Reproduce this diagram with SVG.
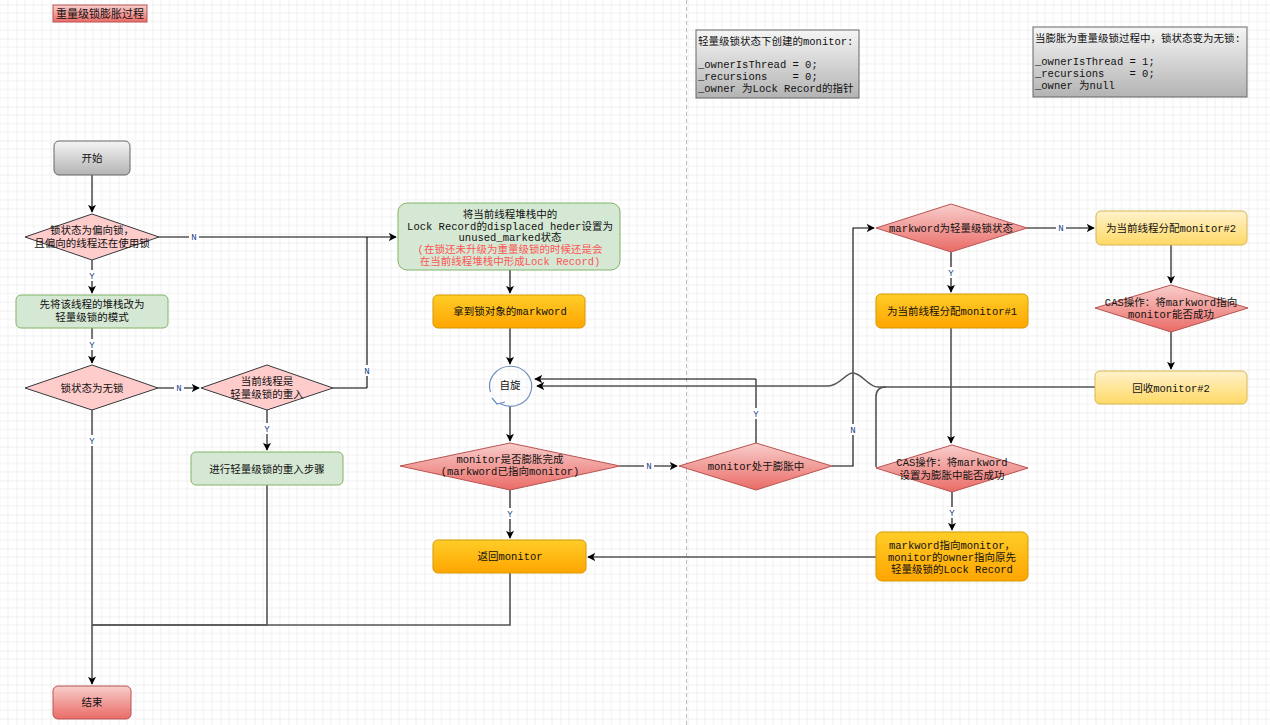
<svg xmlns="http://www.w3.org/2000/svg" width="1270" height="725" viewBox="0 0 1270 725">
<defs>
<pattern id="grid" x="16.5" y="4.5" width="34" height="34" patternUnits="userSpaceOnUse">
<path d="M8.5,0V34M17,0V34M25.5,0V34M0,8.5H34M0,17H34M0,25.5H34" stroke="#f1f1f1" stroke-width="1" fill="none"/>
<path d="M0,0V34M0,0H34" stroke="#e2e2e2" stroke-width="1" fill="none"/>
</pattern>
<linearGradient id="gRed" x1="0" y1="0" x2="0" y2="1"><stop offset="0" stop-color="#f8cecc"/><stop offset="1" stop-color="#ea6b66"/></linearGradient>
<linearGradient id="gGray" x1="0" y1="0" x2="0" y2="1"><stop offset="0" stop-color="#f5f5f5"/><stop offset="1" stop-color="#b3b3b3"/></linearGradient>
<linearGradient id="gOrange" x1="0" y1="0" x2="0" y2="1"><stop offset="0" stop-color="#ffcd28"/><stop offset="1" stop-color="#ffa500"/></linearGradient>
<linearGradient id="gYellow" x1="0" y1="0" x2="0" y2="1"><stop offset="0" stop-color="#fff2cc"/><stop offset="1" stop-color="#ffd966"/></linearGradient>
<marker id="arr" viewBox="0 0 10 10" refX="9" refY="5" markerWidth="8" markerHeight="8" markerUnits="userSpaceOnUse" orient="auto">
<path d="M0,0 L10,5 L0,10 L2.5,5 z" fill="#000"/>
</marker>
<style>
text{font-family:"Liberation Mono","Noto Sans CJK SC",monospace;font-size:10.5px;fill:#111;text-anchor:middle}
.note text{text-anchor:start;white-space:pre}
.red{fill:url(#gRed);stroke:#b85450;stroke-width:1}
.gray{fill:url(#gGray);stroke:#666666;stroke-width:1}
.green{fill:#d5e8d4;stroke:#82b366;stroke-width:1}
.pink{fill:#ffcccc;stroke:#36393d;stroke-width:1}
.orange{fill:url(#gOrange);stroke:#d79b00;stroke-width:1}
.yellow{fill:url(#gYellow);stroke:#d6b656;stroke-width:1}
.g{fill:none;stroke:#555;stroke-width:1.6}
.k{fill:none;stroke:#000;stroke-width:1.1}
.lbl{font-size:9px;fill:#1a3f8a}
.lbg{fill:#fff}
.warn{fill:#ff5555}
</style>
</defs>
<rect width="1270" height="725" fill="#fff"/>
<rect width="1270" height="725" fill="url(#grid)"/>
<line x1="686.5" y1="0" x2="686.5" y2="725" stroke="#bdbdbd" stroke-width="1" stroke-dasharray="4,3"/>

<g id="connectors">
<path class="g" d="M92,175 V212" marker-end="url(#arr)"/>
<path class="k" d="M159,237 H396" marker-end="url(#arr)"/>
<path class="g" d="M92,260 V293" marker-end="url(#arr)"/>
<path class="g" d="M92,328 V363" marker-end="url(#arr)"/>
<path class="g" d="M158,388 H199" marker-end="url(#arr)"/>
<path class="g" d="M333,388 H367"/>
<path class="k" d="M367,388 V237"/>
<path class="g" d="M267,410 V450" marker-end="url(#arr)"/>
<path class="g" d="M92,410 V684" marker-end="url(#arr)"/>
<path class="g" d="M267,485 V625 H92"/>
<path class="g" d="M510,573 V625 H92"/>
<path class="k" d="M510,270 V293" marker-end="url(#arr)"/>
<path class="k" d="M510,328 V364" marker-end="url(#arr)"/>
<path class="k" d="M510,406 V441" marker-end="url(#arr)"/>
<path class="k" d="M510,490 V538" marker-end="url(#arr)"/>
<path class="k" d="M620,466 H677" marker-end="url(#arr)"/>
<path class="g" d="M756,443 V379"/>
<path class="k" d="M756,379 H535" marker-end="url(#arr)"/>
<path class="k" d="M832,466 H853 V228 H874" marker-end="url(#arr)"/>
<path class="g" d="M1027,228 H1094" marker-end="url(#arr)"/>
<path class="k" d="M951,252 V292" marker-end="url(#arr)"/>
<path class="g" d="M951,328 V443" marker-end="url(#arr)"/>
<path class="k" d="M952,492 V530" marker-end="url(#arr)"/>
<path class="g" d="M876,557 H588" marker-end="url(#arr)"/>
<path class="g" d="M1171,245 V283" marker-end="url(#arr)"/>
<path class="k" d="M1171,332 V369" marker-end="url(#arr)"/>
<path class="g" d="M1095,387 H878 C868,387 862,373 853,373 C845,373 840,386 828,386 H537" marker-end="url(#arr)"/>
<path class="g" d="M876,467 V397 Q876,387 886,387"/>
</g>

<g id="labels">
<rect class="lbg" x="189" y="231" width="10" height="11"/><text class="lbl" x="194" y="240">N</text>
<rect class="lbg" x="87" y="270" width="10" height="11"/><text class="lbl" x="92" y="279">Y</text>
<rect class="lbg" x="87" y="339" width="10" height="11"/><text class="lbl" x="92" y="348">Y</text>
<rect class="lbg" x="174" y="382" width="10" height="11"/><text class="lbl" x="179" y="391">N</text>
<rect class="lbg" x="362" y="365" width="10" height="11"/><text class="lbl" x="367" y="374">N</text>
<rect class="lbg" x="262" y="423" width="10" height="11"/><text class="lbl" x="267" y="432">Y</text>
<rect class="lbg" x="87" y="435" width="10" height="11"/><text class="lbl" x="92" y="444">Y</text>
<rect class="lbg" x="505" y="508" width="10" height="11"/><text class="lbl" x="510" y="517">Y</text>
<rect class="lbg" x="644" y="460" width="10" height="11"/><text class="lbl" x="649" y="469">N</text>
<rect class="lbg" x="751" y="408" width="10" height="11"/><text class="lbl" x="756" y="417">Y</text>
<rect class="lbg" x="848" y="424" width="10" height="11"/><text class="lbl" x="853" y="433">N</text>
<rect class="lbg" x="1056" y="222" width="10" height="11"/><text class="lbl" x="1061" y="231">N</text>
<rect class="lbg" x="946" y="267" width="10" height="11"/><text class="lbl" x="951" y="276">Y</text>
<rect class="lbg" x="947" y="507" width="10" height="11"/><text class="lbl" x="952" y="516">Y</text>
</g>

<g id="title"><rect class="red" x="53" y="5" width="94" height="17"/><text x="100" y="17.5" style="font-size:11px">重量级锁膨胀过程</text></g>

<g id="note1" class="note"><rect class="gray" x="696" y="30" width="163" height="68"/>
<text x="698" y="45">轻量级锁状态下创建的monitor:</text>
<text x="698" y="68">_ownerIsThread = 0;</text>
<text x="698" y="80">_recursions    = 0;</text>
<text x="698" y="92">_owner 为Lock Record的指针</text></g>

<g id="note2" class="note"><rect class="gray" x="1033" y="27" width="214" height="70"/>
<text x="1035" y="42">当膨胀为重量级锁过程中，锁状态变为无锁:</text>
<text x="1035" y="65">_ownerIsThread = 1;</text>
<text x="1035" y="77">_recursions    = 0;</text>
<text x="1035" y="89">_owner 为null</text></g>

<g id="start"><rect class="gray" x="54" y="141" width="76" height="34" rx="5"/><text x="92" y="162">开始</text></g>

<g id="d_biased"><polygon class="pink" points="92,214 159,237 92,260 25,237"/><text x="92" y="234">锁状态为偏向锁，</text><text x="92" y="247">且偏向的线程还在使用锁</text></g>

<g id="to_light"><rect class="green" x="16" y="295" width="152" height="33" rx="5"/><text x="92" y="308">先将该线程的堆栈改为</text><text x="92" y="321">轻量级锁的模式</text></g>

<g id="d_nolock"><polygon class="pink" points="92,365 158,388 92,410 25,388"/><text x="92" y="392">锁状态为无锁</text></g>

<g id="d_reentry"><polygon class="pink" points="267,365 333,388 267,410 201,388"/><text x="267" y="385">当前线程是</text><text x="267" y="398">轻量级锁的重入</text></g>

<g id="reentry"><rect class="green" x="191" y="452" width="152" height="33" rx="5"/><text x="267" y="473">进行轻量级锁的重入步骤</text></g>

<g id="end"><rect class="red" x="53" y="686" width="78" height="33" rx="5"/><text x="92" y="706">结束</text></g>

<g id="set_displaced"><rect class="green" x="398" y="203" width="222" height="67" rx="9"/>
<text x="510" y="218">将当前线程堆栈中的</text>
<text x="510" y="230">Lock Record的displaced heder设置为</text>
<text x="510" y="241">unused_marked状态</text>
<text class="warn" x="510" y="253">(在锁还未升级为重量级锁的时候还是会</text>
<text class="warn" x="510" y="265">在当前线程堆栈中形成Lock Record)</text></g>

<g id="get_markword"><rect class="orange" x="433" y="295" width="152" height="33" rx="5"/><text x="510" y="315">拿到锁对象的markword</text></g>

<g id="spin">
<path d="M490.5,392 A21,20 0 1 1 500,403.5" fill="none" stroke="#6c8ebf" stroke-width="1.2"/>
<path d="M492,398 L497,404 L505,402" fill="none" stroke="#6c8ebf" stroke-width="1.2"/>
<text x="510" y="389">自旋</text></g>

<g id="d_inflated"><polygon class="red" points="510,443 620,466 510,490 400,466"/><text x="510" y="463">monitor是否膨胀完成</text><text x="510" y="475">(markword已指向monitor)</text></g>

<g id="return_monitor"><rect class="orange" x="433" y="540" width="153" height="33" rx="5"/><text x="510" y="560">返回monitor</text></g>

<g id="d_inflating"><polygon class="red" points="756,443 832,466 756,490 679,466"/><text x="756" y="470">monitor处于膨胀中</text></g>

<g id="d_light"><polygon class="red" points="951,204 1027,228 951,252 876,228"/><text x="951" y="232">markword为轻量级锁状态</text></g>

<g id="alloc1"><rect class="orange" x="876" y="294" width="152" height="34" rx="5"/><text x="952" y="315">为当前线程分配monitor#1</text></g>

<g id="d_cas1"><polygon class="red" points="952,445 1028,468 952,492 876,468"/><text x="952" y="466">CAS操作：将markword</text><text x="952" y="479">设置为膨胀中能否成功</text></g>

<g id="point_monitor"><rect class="orange" x="876" y="532" width="152" height="49" rx="6"/>
<text x="952" y="549">markword指向monitor，</text>
<text x="952" y="561">monitor的owner指向原先</text>
<text x="952" y="573">轻量级锁的Lock Record</text></g>

<g id="alloc2"><rect class="yellow" x="1096" y="211" width="151" height="34" rx="5"/><text x="1171" y="232">为当前线程分配monitor#2</text></g>

<g id="d_cas2"><polygon class="red" points="1171,285 1248,308 1171,332 1095,308"/><text x="1171" y="306">CAS操作：将markword指向</text><text x="1171" y="318">monitor能否成功</text></g>

<g id="recycle"><rect class="yellow" x="1095" y="371" width="152" height="33" rx="5"/><text x="1171" y="392">回收monitor#2</text></g>
</svg>
